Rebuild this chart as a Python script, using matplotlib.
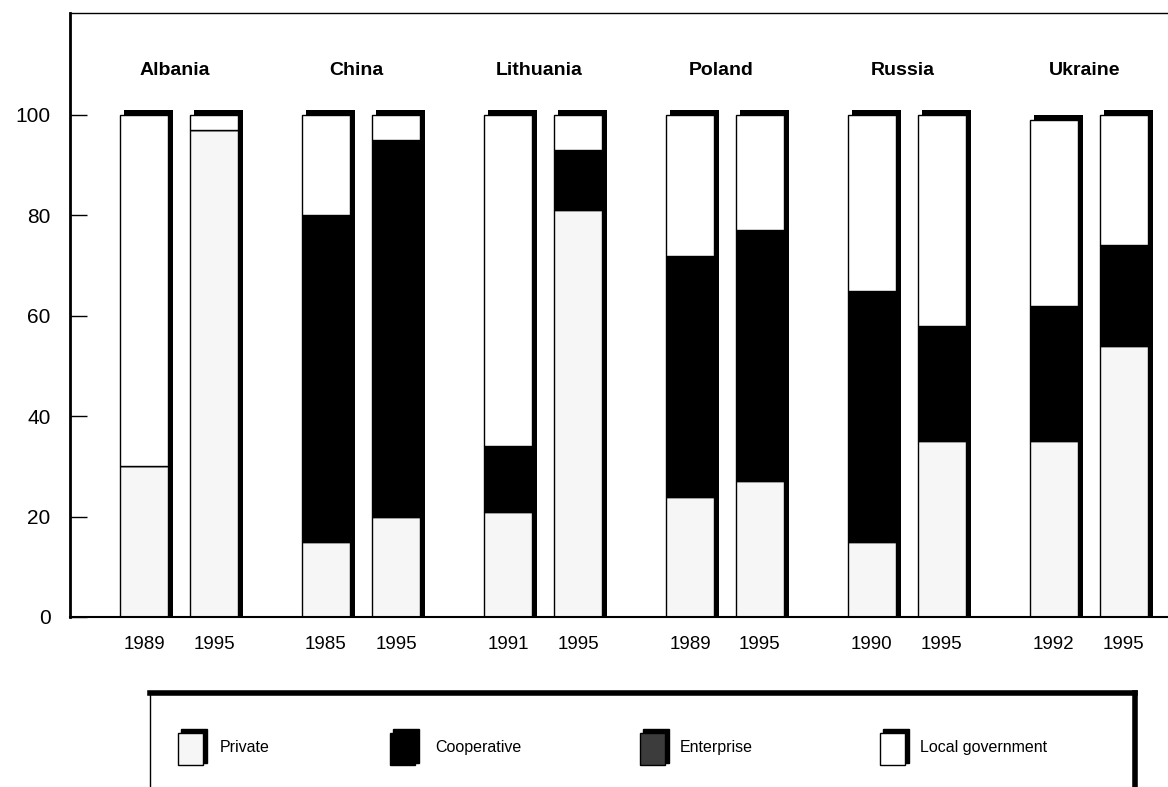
import matplotlib.pyplot as plt
from matplotlib.patches import Rectangle

plt.rcParams['font.family'] = ['Liberation Sans', 'DejaVu Sans']

countries = ['Albania', 'China', 'Lithuania', 'Poland', 'Russia', 'Ukraine']
years = [['1989', '1995'], ['1985', '1995'], ['1991', '1995'],
         ['1989', '1995'], ['1990', '1995'], ['1992', '1995']]
private = [[30, 97], [15, 20], [21, 81], [24, 27], [15, 35], [35, 54]]
cooperative = [[0, 0], [65, 75], [13, 12], [48, 50], [50, 23], [27, 20]]
local_gov = [[70, 3], [20, 5], [66, 7], [28, 23], [35, 42], [37, 26]]

legend_labels = ['Private', 'Cooperative', 'Enterprise', 'Local government']
legend_colors = ['#f6f6f6', 'black', '#3c3c3c', 'white']

fig = plt.figure(figsize=(11.68, 7.87), dpi=100)
ax = fig.add_axes([70 / 1168, 1 - 617 / 787, 1 - 70 / 1168, (617 - 13) / 787])

group_gap = 2.6
width = 0.69
dx, dy = 0.065, 1.0

xpos, xlab = [], []
for g, country in enumerate(countries):
    for k in range(2):
        x = g * group_gap + (k - 0.5)
        p = private[g][k]
        c = cooperative[g][k]
        lg = local_gov[g][k]
        total = p + c + lg
        # shadow gives the thick top and right edge
        ax.bar(x + dx, total + dy, width=width, color='black', zorder=1)
        ax.bar(x, p, width=width, color='#f6f6f6', edgecolor='black', linewidth=1, zorder=2)
        ax.bar(x, c, bottom=p, width=width, color='black', edgecolor='black', linewidth=1, zorder=2)
        ax.bar(x, lg, bottom=p + c, width=width, color='white', edgecolor='black', linewidth=1, zorder=2)
        xpos.append(x)
        xlab.append(years[g][k])
    ax.text(g * group_gap - 0.06, 108.8, country, ha='center', va='center',
            fontsize=14, fontweight='bold')

ax.set_xlim(-1.557, 14.13)
ax.set_ylim(0, 120.3)
ax.set_xticks(xpos)
ax.set_xticklabels(xlab, fontsize=13.5)
ax.tick_params(axis='x', length=0, pad=14)
ax.set_yticks([0, 20, 40, 60, 80, 100])
ax.tick_params(axis='y', direction='in', length=12, width=1, labelsize=15, pad=14)
ax.spines['right'].set_visible(False)
ax.spines['left'].set_linewidth(2)
ax.spines['top'].set_linewidth(1)
ax.spines['bottom'].set_linewidth(1.5)

# legend box, bottom runs off the page
lax = fig.add_axes([150 / 1168, -0.05, (1135 - 150) / 1168, (787 - 693) / 787 + 0.05])
lax.set_xlim(150, 1135)
lax.set_ylim(-40, 94)
lax.set_xticks([])
lax.set_yticks([])
lax.spines['bottom'].set_visible(False)
lax.spines['top'].set_linewidth(4)
lax.spines['right'].set_linewidth(4)
lax.spines['left'].set_linewidth(1)

sw_x = [178, 390, 640, 880]
txt_x = [220, 435, 680, 920]
for sx, tx, lab, col in zip(sw_x, txt_x, legend_labels, legend_colors):
    lax.add_patch(Rectangle((sx + 3, 24), 26, 34, color='black', zorder=1))
    lax.add_patch(Rectangle((sx, 22), 25, 32, facecolor=col, edgecolor='black',
                            linewidth=1, zorder=2))
    lax.text(tx, 39, lab, ha='left', va='center', fontsize=11.5)

fig.savefig('out.png', dpi=100)
